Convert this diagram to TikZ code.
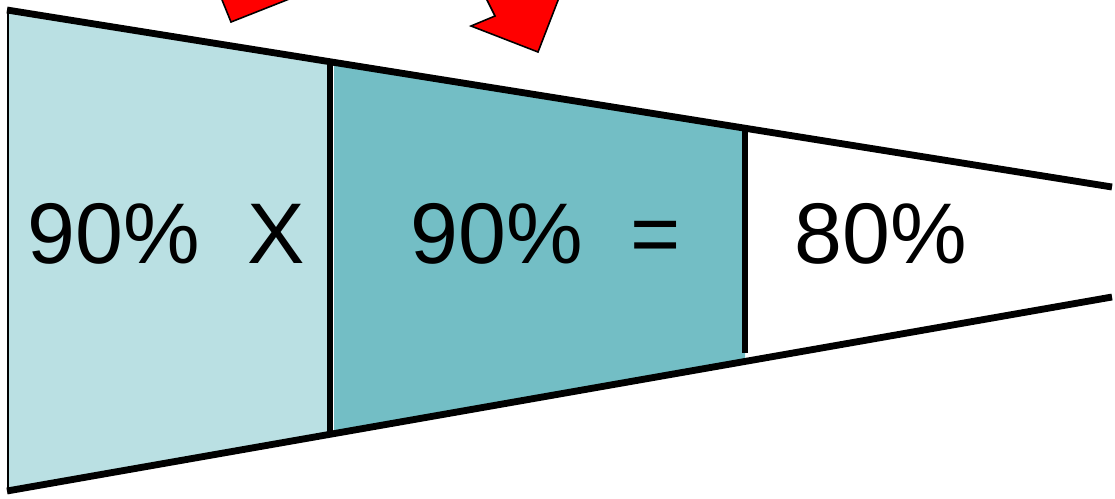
\documentclass[tikz,border=0pt]{standalone}
\usepackage{fontspec}
\setmainfont{Liberation Sans}
\usetikzlibrary{calc}
\definecolor{paleteal}{RGB}{186,224,227}
\definecolor{midteal}{RGB}{115,190,197}
\definecolor{arrowred}{RGB}{255,0,0}
\tikzset{
  every node/.style={font=\fontsize{49}{56}\selectfont, inner sep=0pt, anchor=base west},
  rim/.style={line width=3.9pt, line cap=butt},
  divider/.style={line width=3pt},
  red head/.style={fill=arrowred, draw=black, line width=0.9pt, line join=miter}
}

\begin{document}
\begin{tikzpicture}[x=0.02cm, y=-0.02cm]
  \useasboundingbox (0,0) rectangle (1115,498);
  \clip (0,0) rectangle (1115,498);

  % panels of the funnel
  \fill[paleteal] (8,10) -- (328,62) -- (328,433) -- (8,490) -- cycle;
  \fill[midteal] (334,63) -- (745,128) -- (745,361) -- (334,431) -- cycle;

  % outline
  \draw[line width=1.2pt] (8,10) -- (8,492);
  \draw[rim] (7,10) -- (1112,187);
  \draw[rim] (7,491) -- (1112,297);
  \draw[divider] (330,62) -- (330,433);
  \draw[divider] (745,128) -- (745,353);

  % red arrows at the top
  \draw[red head] (218,-10) -- (231,22) -- (312,-10);
  \draw[red head] (482,-10) -- (495,16) -- (471,26) -- (538,52) -- (562,-10);

  % labels
  \node (first)  at (27,263)  {90\%\ \ X};
  \node (second) at (410,263) {90\%\ \ =};
  \node (result) at (794,263) {80\%};
\end{tikzpicture}
\end{document}
